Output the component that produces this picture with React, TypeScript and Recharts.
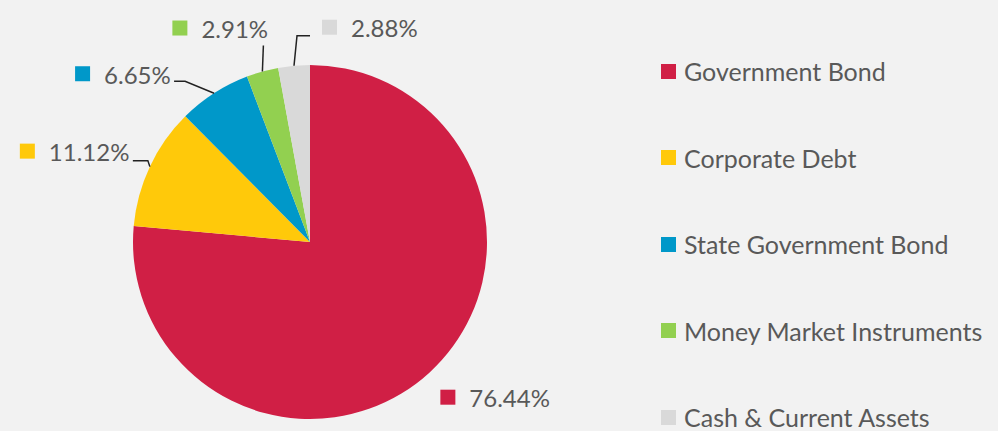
import React from "react";
import { PieChart, Pie, Cell } from "recharts";

const categories = [
  "Government Bond",
  "Corporate Debt",
  "State Government Bond",
  "Money Market Instruments",
  "Cash & Current Assets",
];
const shares = [76.44, 11.12, 6.65, 2.91, 2.88];
const colors = ["#D01F45", "#FFC90A", "#0098C9", "#92D050", "#D9D9D9"];

const data = categories.map((name, i) => ({ name, value: shares[i] }));

// label placement relative to the point where the slice's mid-angle meets the rim
const labelNudge = [
  { dx: 11, dy: 17, leader: [] as number[][] },
  { dx: -130, dy: -23, leader: [[-2, -6], [-17, -6]] },
  { dx: -139, dy: -27, leader: [[-29, -12], [-40, -12]] },
  { dx: -90, dy: -51, leader: [[1, -26]] },
  { dx: 28, dy: -46, leader: [[3, -30], [16, -30]] },
];

const FONT = "Lato, 'Open Sans', sans-serif";
const TEXT = "#595959";

const RADIAN = Math.PI / 180;

function SliceLabel(props: any) {
  const { cx, cy, midAngle, outerRadius, index, value } = props;
  const ax = cx + outerRadius * Math.cos(-midAngle * RADIAN);
  const ay = cy + outerRadius * Math.sin(-midAngle * RADIAN);
  const n = labelNudge[index];
  const sx = ax + n.dx;
  const sy = ay + n.dy;
  const pts = [[0, 0], ...n.leader].map(([x, y]) => `${ax + x},${ay + y}`);
  return (
    <g>
      {n.leader.length > 0 && (
        <polyline points={pts.join(" ")} fill="none" stroke="#222" strokeWidth={1.5} />
      )}
      <rect x={sx} y={sy} width={15} height={15} fill={colors[index]} />
      <text
        x={sx + 29}
        y={sy + 8}
        dominantBaseline="central"
        fill={TEXT}
        fontSize={24}
        fontFamily={FONT}
      >
        {`${Number(value).toFixed(2)}%`}
      </text>
    </g>
  );
}

function LegendBox() {
  return (
    <div
      style={{
        position: "absolute",
        left: 661,
        top: 28,
        fontFamily: FONT,
        fontSize: 25,
        color: TEXT,
        whiteSpace: "nowrap",
      }}
    >
      {categories.map((c, i) => (
        <div key={c} style={{ height: 86.5, display: "flex", alignItems: "center" }}>
          <span
            style={{
              display: "inline-block",
              width: 15,
              height: 15,
              background: colors[i],
              marginRight: 8,
            }}
          />
          <span>{c}</span>
        </div>
      ))}
    </div>
  );
}

export default function App() {
  return (
    <div
      style={{
        position: "absolute",
        left: 0,
        top: 0,
        width: 998,
        height: 431,
        background: "#F2F2F2",
        overflow: "hidden",
      }}
    >
      <PieChart width={998} height={431} margin={{ top: 0, right: 0, bottom: 0, left: 0 }}>
        <Pie
          data={data}
          dataKey="value"
          nameKey="name"
          cx={310}
          cy={242}
          outerRadius={177}
          startAngle={90}
          endAngle={-270}
          stroke="none"
          label={SliceLabel}
          labelLine={false}
          isAnimationActive={false}
        >
          {data.map((d, i) => (
            <Cell key={d.name} fill={colors[i]} />
          ))}
        </Pie>
      </PieChart>
      <LegendBox />
    </div>
  );
}
